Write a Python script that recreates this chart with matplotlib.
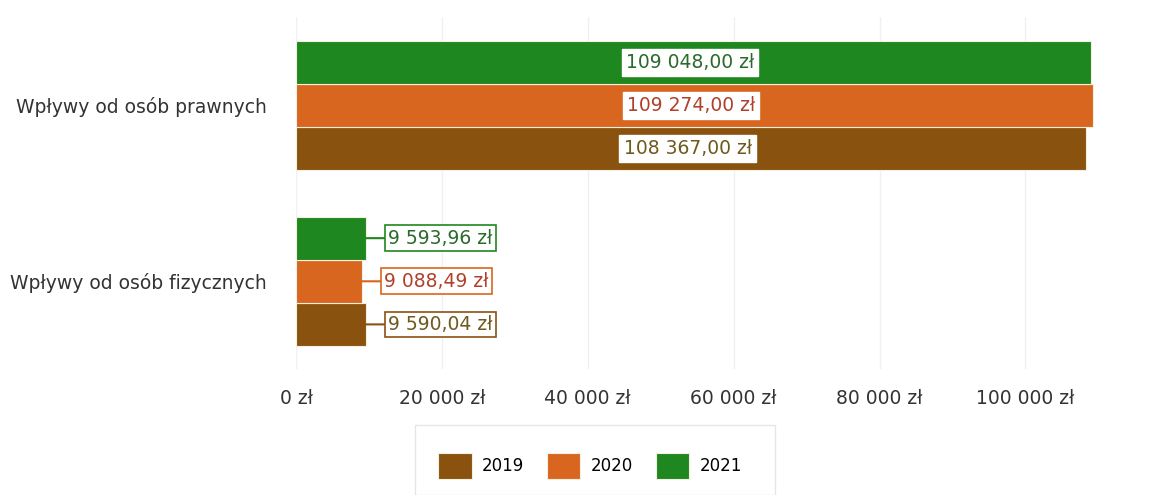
import matplotlib.pyplot as plt
from matplotlib.patches import Rectangle
from matplotlib.ticker import FuncFormatter

categories = ['Wpływy od osób fizycznych', 'Wpływy od osób prawnych']
years = ['2019', '2020', '2021']
values_2019 = [9590.04, 108367.00]
values_2020 = [9088.49, 109274.00]
values_2021 = [9593.96, 109048.00]
x_ticks = [0, 20000, 40000, 60000, 80000, 100000]

bar_colors = ['#8a520f', '#d9661f', '#1f871f']
text_colors = ['#6e5a1c', '#b0402a', '#2a6a2a']


def pl_money(v, decimals=2):
    s = f'{v:,.{decimals}f}'
    s = s.replace(',', ' ').replace('.', ',')
    return s + ' zł'


def main():
    plt.rcParams['font.family'] = ['DejaVu Sans']
    fig = plt.figure(figsize=(11.61, 4.95), dpi=100)
    ax = fig.add_axes([0.255, 0.254, 0.735, 0.711])

    h = 0.245
    series = [values_2019, values_2020, values_2021]
    offsets = [-h, 0, h]
    for k in range(3):
        ys = [i + offsets[k] for i in range(len(categories))]
        bars = ax.barh(ys, series[k], height=h, color=bar_colors[k],
                       edgecolor='#f4f0e0', linewidth=0.8, label=years[k], zorder=2)
        for b, v in zip(bars, series[k]):
            yc = b.get_y() + b.get_height() / 2
            if v > 50000:
                ax.text(v / 2 - 500, yc, pl_money(v), ha='center', va='center',
                        fontsize=13.5, color=text_colors[k], zorder=3,
                        bbox=dict(boxstyle='square,pad=0.22', fc='white', ec='white'))
            else:
                ax.annotate(pl_money(v), xy=(v, yc), xytext=(22, 0),
                            textcoords='offset pixels', ha='left', va='center',
                            fontsize=13.5, color=text_colors[k], zorder=3,
                            bbox=dict(boxstyle='square,pad=0.18', fc='white',
                                      ec=bar_colors[k], lw=1.2),
                            arrowprops=dict(arrowstyle='-', color=bar_colors[k], lw=1.5,
                                            shrinkA=0, shrinkB=0))

    ax.set_xlim(0, 117000)
    ax.set_ylim(-0.5, 1.5)
    ax.set_xticks(x_ticks)
    ax.xaxis.set_major_formatter(FuncFormatter(lambda v, p: pl_money(v, 0)))
    ax.set_yticks(range(len(categories)))
    ax.set_yticklabels(categories)
    ax.tick_params(axis='x', length=0, pad=14, labelsize=13.5, colors='#333333')
    ax.tick_params(axis='y', length=0, pad=21, labelsize=13.5, colors='#333333')
    ax.grid(axis='x', color='#f0f0f0', lw=1, zorder=0)
    for s in ax.spines.values():
        s.set_visible(False)

    handles, labels = ax.get_legend_handles_labels()
    fig.legend(handles, labels, loc='center', bbox_to_anchor=(590 / 1161, 1 - 466 / 495),
               ncol=3, frameon=False, fontsize=12, handlelength=2.0, handleheight=2.0,
               handletextpad=0.6, columnspacing=1.4)
    fig.patches.append(Rectangle((415 / 1161, 0), 360 / 1161, 70 / 495,
                                 transform=fig.transFigure, fill=False,
                                 ec='#e6e6e6', lw=1))

    plt.savefig('out.png', dpi=100)
    return 0


if __name__ == '__main__':
    main()
